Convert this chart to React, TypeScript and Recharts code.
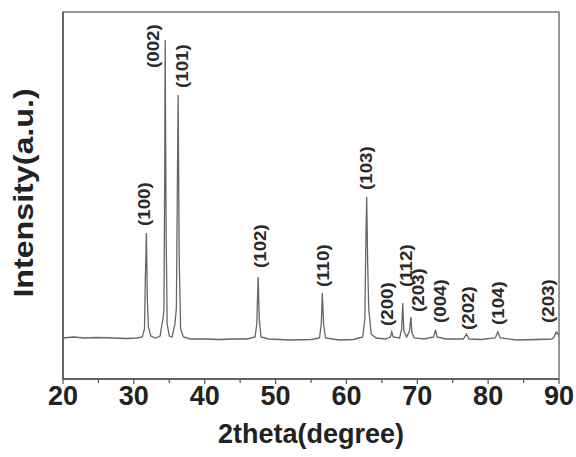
import React from 'react';
import {
  ComposedChart,
  Line,
  Scatter,
  XAxis,
  YAxis,
  ReferenceArea,
  Label,
} from 'recharts';

// XRD pattern: [2theta, intensity (a.u.)]
const pattern: [number, number][] = [
  [20, 41], [21.5, 42], [23, 41], [25, 41.5], [27, 41], [29, 40.5], [30.5, 41],
  [31.2, 42], [31.5, 50], [31.62, 100], [31.77, 146], [31.9, 80], [32.05, 52], [32.4, 43],
  [33, 41], [33.7, 43], [34.1, 60], [34.25, 69], [34.35, 200], [34.42, 339], [34.55, 150],
  [34.7, 55], [35.0, 43], [35.4, 42], [35.8, 55], [36.0, 71], [36.15, 200], [36.25, 284],
  [36.4, 120], [36.6, 50], [37, 42], [38, 40], [40, 40], [42, 39.5], [44, 40], [46, 40],
  [47.1, 42], [47.35, 55], [47.54, 102], [47.7, 60], [47.95, 42], [49, 40], [52, 39],
  [55, 39.5], [56.2, 41], [56.45, 55], [56.6, 86], [56.78, 55], [57.05, 41], [59, 39],
  [61, 39.5], [62.3, 42], [62.6, 60], [62.75, 140], [62.86, 182], [63.0, 115], [63.15, 70],
  [63.5, 45], [64.2, 41], [65.5, 40], [66.2, 42], [66.4, 47], [66.6, 42], [67.5, 41],
  [67.8, 50], [67.95, 76], [68.1, 48], [68.5, 42], [68.9, 48], [69.1, 62], [69.25, 46],
  [69.6, 41], [71, 40], [72.3, 42], [72.56, 49], [72.8, 42], [74, 40], [76.5, 40],
  [76.95, 45], [77.3, 40], [79, 39.5], [81.0, 41], [81.37, 47], [81.7, 41], [84, 39],
  [87, 39.5], [89, 40], [89.3, 42], [89.6, 47], [90, 44],
];

// peak labels: hkl, where the label sits (2theta) and its lower end (intensity)
const peakHkl = ['(100)', '(002)', '(101)', '(102)', '(110)', '(103)', '(200)', '(112)', '(203)', '(004)', '(202)', '(104)', '(203)'];
const peakAngle = [31.55, 32.75, 36.85, 47.87, 56.77, 62.85, 65.75, 68.5, 70.2, 73.3, 77.2, 81.5, 88.5];
const peakLabelBase = [153, 311, 291, 111, 92, 189, 53, 92, 67, 56, 49, 54, 56];

const xTicks = [20, 25, 30, 35, 40, 45, 50, 55, 60, 65, 70, 75, 80, 85, 90];

const lineData = pattern.map(([x, y]) => ({ x, y }));
const labelData = peakHkl.map((hkl, i) => ({ x: peakAngle[i], y: peakLabelBase[i], hkl }));

const FONT = '"Liberation Sans", Arial, sans-serif';

const XTick = (props: any) => {
  const { x, y, payload } = props;
  const major = payload.value % 10 === 0;
  return (
    <g>
      <line x1={x} x2={x} y1={y} y2={y + (major ? 5 : 4)} stroke="#555" strokeWidth={1.2} />
      {major && (
        <text x={x} y={y + 26} textAnchor="middle" fontSize={27} fontWeight="bold" fill="#222" fontFamily={FONT}>
          {payload.value}
        </text>
      )}
    </g>
  );
};

const PeakLabel = (props: any) => {
  const { cx, cy, payload } = props;
  return (
    <text
      transform={`translate(${cx},${cy}) scale(1,1.17) rotate(-90)`}
      x={0}
      y={0}
      textAnchor="start"
      dominantBaseline="central"
      fontSize={16}
      fontWeight="bold"
      fill="#2a2a2a"
      fontFamily={FONT}
    >
      {payload.hkl}
    </text>
  );
};

export default function App() {
  return (
    <div style={{ position: 'absolute', left: 0, top: 0, background: '#fff' }}>
      <ComposedChart width={576} height={457} margin={{ top: 12, right: 17, bottom: 0, left: 0 }}>
        <XAxis
          type="number"
          dataKey="x"
          domain={[20, 90]}
          ticks={xTicks}
          allowDataOverflow
          height={78}
          tickSize={0}
          tickMargin={0}
          tick={<XTick />}
          axisLine={{ stroke: '#555', strokeWidth: 1.5 }}
        >
          <Label
            value="2theta(degree)"
            position="insideBottom"
            offset={14}
            style={{ fontSize: 27, fontWeight: 'bold', fill: '#222', fontFamily: FONT }}
          />
        </XAxis>
        <YAxis
          type="number"
          dataKey="y"
          domain={[0, 367]}
          allowDataOverflow
          width={63}
          tick={false}
          tickLine={false}
          axisLine={{ stroke: '#555', strokeWidth: 1.5 }}
        >
          <Label
            content={() => (
              <text
                transform="translate(23,193) scale(1,1.15) rotate(-90)"
                x={0}
                y={0}
                textAnchor="middle"
                dominantBaseline="central"
                fontSize={28}
                fontWeight="bold"
                fill="#222"
                fontFamily={FONT}
              >
                Intensity(a.u.)
              </text>
            )}
          />
        </YAxis>
        <ReferenceArea x1={20} x2={90} y1={0} y2={367} fill="none" stroke="#777" strokeWidth={1.5} ifOverflow="visible" />
        <Line
          data={lineData}
          dataKey="y"
          type="linear"
          stroke="#666"
          strokeWidth={1.3}
          dot={false}
          isAnimationActive={false}
        />
        <Scatter data={labelData} dataKey="y" shape={<PeakLabel />} isAnimationActive={false} />
      </ComposedChart>
    </div>
  );
}
